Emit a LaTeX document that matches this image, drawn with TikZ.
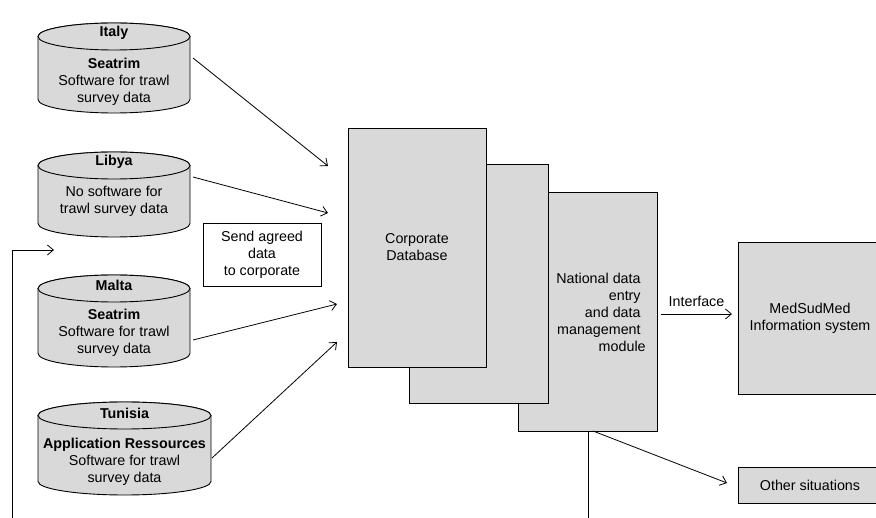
\documentclass[tikz,border=0pt]{standalone}
\usepackage{fontspec}
\setmainfont{Liberation Sans}
\usetikzlibrary{arrows.meta,calc}
\definecolor{boxgray}{HTML}{D9D9D9}
\tikzset{
  every node/.style={font=\fontsize{14.3}{17}\selectfont, inner sep=0pt, outer sep=0pt},
  panel/.style={draw=black, fill=boxgray, line width=0.9pt, align=center},
  drum/.style={draw=black, fill=boxgray, line width=0.9pt},
  notebox/.style={draw=black, fill=white, line width=0.9pt, align=center},
  txt/.style={align=center},
  arr/.style={-{Straight Barb[length=6pt,width=10pt]}, line width=0.8pt},
  plain/.style={line width=0.9pt}
}
\newcommand\drum[5]{%
  \pgfmathsetmacro\dxc{(#2+#3)/2}%
  \pgfmathsetmacro\drx{(#3-#2)/2}%
  \pgfmathsetmacro\dyc{(#4+#5)/2}%
  \pgfmathsetmacro\dh{#5-#4}%
  \pgfmathsetmacro\dw{#3-#2}%
  \node[minimum width=\dw pt, minimum height=\dh pt] (#1) at (\dxc,\dyc) {};
  \filldraw[drum] (#2,#4+13.5) -- (#2,#5-13.5)
     arc[start angle=180,end angle=360,x radius=\drx pt,y radius=13.5pt]
     -- (#3,#4+13.5)
     arc[start angle=0,end angle=180,x radius=\drx pt,y radius=13.5pt] -- cycle;
  \draw[drum] (\dxc,#4+13.5) ellipse[x radius=\drx pt, y radius=13.5pt];
}
\begin{document}
\begin{tikzpicture}[x=1pt,y=-1pt]
\clip (0,0) rectangle (876,518);

% cylinders
\drum{italy}{38}{190}{23}{113}
\node[txt] (italyt) at (114,33) {\bfseries Italy};
\node[txt] (italyb) at (114,81.5) {\bfseries Seatrim\\Software for trawl\\survey data};

\drum{libya}{38}{190}{152}{237}
\node[txt] (libyat) at (114,162) {\bfseries Libya};
\node[txt] (libyab) at (114,201) {No software for\\trawl survey data};

\drum{malta}{38}{190}{275}{367}
\node[txt] (maltat) at (114,285) {\bfseries Malta};
\node[txt] (maltab) at (114,333) {\bfseries Seatrim\\Software for trawl\\survey data};

\drum{tunisia}{38}{211}{402}{495}
\node[txt] (tunisiat) at (124.5,413) {\bfseries Tunisia};
\node[txt] (tunisiab) at (124.5,462) {\bfseries Application Ressources\\Software for trawl\\survey data};

% send box
\node[notebox, minimum width=118pt, minimum height=63pt] (send) at (262,254.5) {Send agreed\\data\\to corporate};

% stacked panels
\node[panel, minimum width=139pt, minimum height=239pt] (nat) at (587.5,311.5) {};
\node[align=right] (natlabel) at (598.5,312) {National data\\entry\\and data\\management\\module\hspace*{-5pt}};
\node[panel, minimum width=139pt, minimum height=239pt] (mid) at (478.5,283.5) {};
\node[panel, minimum width=138pt, minimum height=239pt] (corp) at (417,247.5) {Corporate\\Database};

% right boxes
\node[panel, minimum width=144pt, minimum height=152pt] (med) at (810,318) {MedSudMed\\Information system};
\node[panel, minimum width=144pt, minimum height=36pt] (other) at (810,485) {Other situations};

% connectors from cylinders
\draw[arr] ([xshift=3pt,yshift=10pt]italy.east) -- ([xshift=-20pt,yshift=-38pt]corp.north west);
\draw[arr] ([xshift=3pt,yshift=17.5pt]libya.east) -- ([xshift=-20pt,yshift=-85pt]corp.north west);
\draw[arr] ([xshift=3pt,yshift=-19pt]malta.east) -- ([xshift=-11pt,yshift=63pt]corp.south west);
\draw[arr] ([xshift=1pt,yshift=-9.5pt]tunisia.east) -- ([xshift=-11pt,yshift=25pt]corp.south west);

% interface
\draw[arr] ([xshift=4pt,yshift=-2.5pt]nat.east) -- node[above=7pt] (iface) {Interface} ([xshift=-6pt,yshift=4pt]med.west);

% other situations
\draw[arr] ([xshift=5.5pt]nat.south) -- ([xshift=-11pt,yshift=2pt]other.west);

% loop lines
\coordinate (loopbot) at (12,518);
\coordinate (loopin) at (54,250);
\draw[plain] ([xshift=0.5pt]nat.south) -- ([xshift=0.5pt]nat.south |- loopbot);
\draw[arr] (loopbot) |- (loopin);
\end{tikzpicture}
\end{document}
